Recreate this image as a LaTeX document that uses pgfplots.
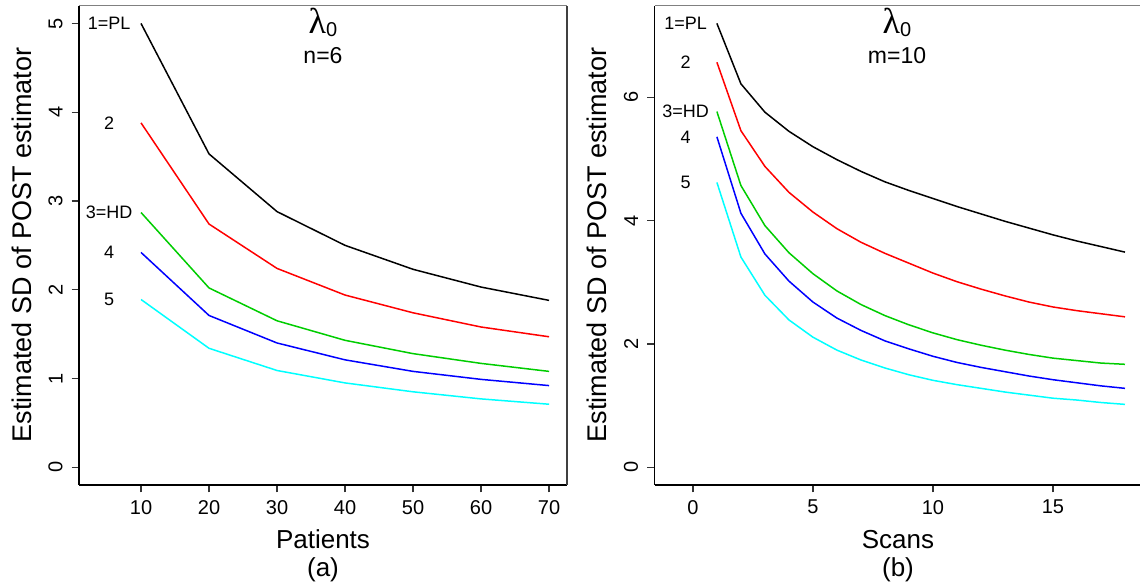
\documentclass[border=0pt]{standalone}
\usepackage{fontspec}
\setmainfont{Liberation Sans}
\newfontfamily\lamfont{Liberation Serif}
\usepackage{pgfplots}
\pgfplotsset{compat=1.18}
\definecolor{rgreen}{HTML}{00CD00}
\definecolor{rcyan}{HTML}{00FFFF}
\definecolor{rred}{HTML}{FF0000}
\definecolor{rblue}{HTML}{0000FF}

\pgfplotstableread{
x black red green blue cyan
10 5.00 3.88 2.87 2.42 1.89
20 3.53 2.74 2.02 1.71 1.34
30 2.88 2.24 1.65 1.40 1.09
40 2.50 1.94 1.43 1.21 0.95
50 2.23 1.74 1.28 1.08 0.85
60 2.03 1.58 1.17 0.99 0.77
70 1.88 1.47 1.08 0.92 0.71
}\patients

\pgfplotstableread{
x black red green blue cyan
1 7.20 6.57 5.77 5.36 4.62
2 6.22 5.46 4.57 4.12 3.41
3 5.76 4.88 3.92 3.46 2.79
4 5.45 4.46 3.48 3.02 2.39
5 5.20 4.14 3.14 2.68 2.11
6 4.99 3.87 2.86 2.42 1.90
7 4.80 3.65 2.64 2.22 1.74
8 4.63 3.47 2.46 2.05 1.61
9 4.49 3.31 2.31 1.92 1.50
10 4.36 3.15 2.18 1.80 1.41
11 4.23 3.01 2.07 1.70 1.34
12 4.11 2.89 1.98 1.62 1.28
13 3.99 2.78 1.90 1.55 1.22
14 3.88 2.68 1.83 1.48 1.17
15 3.77 2.60 1.77 1.42 1.12
16 3.67 2.54 1.73 1.37 1.09
17 3.58 2.49 1.69 1.32 1.05
18 3.49 2.44 1.67 1.28 1.02
}\scans

\pgfplotsset{rstyle/.style={
  scale only axis, width=244pt, height=239.65pt,
  axis x line*=bottom, axis y line*=left,
  axis line style={black, line width=0.65pt},
  tick align=outside, major tick length=3.75pt,
  tick style={black!80, line width=0.6pt},
  /pgf/number format/assume math mode=true,
  ticklabel style={font=\fontsize{10}{11}\selectfont},
  xticklabel style={anchor=north, inner sep=0pt, inner ysep=3.6pt},
  yticklabel style={rotate=90, anchor=south, inner sep=0pt, inner ysep=4.3pt},
  every axis plot/.append style={line width=0.75pt, no markers},
  clip=false,
}}

\begin{document}
\begin{tikzpicture}
\path[use as bounding box] (0,0) rectangle (570pt,293.5pt);

\begin{axis}[rstyle, at={(39.5pt,51pt)}, anchor=south west,
  xmin=0.88, xmax=72.64, ymin=-0.2, ymax=5.2,
  xtick={10,20,30,40,50,60,70}, ytick={0,1,2,3,4,5}]
\addplot[black] table[x=x,y=black] {\patients};
\addplot[rred] table[x=x,y=red] {\patients};
\addplot[rgreen] table[x=x,y=green] {\patients};
\addplot[rblue] table[x=x,y=blue] {\patients};
\addplot[rcyan] table[x=x,y=cyan] {\patients};
\draw[gray, line width=0.8pt] (rel axis cs:0,1) -- (rel axis cs:1,1);
\draw[black!75, line width=0.65pt] (rel axis cs:1,0) -- (rel axis cs:1,1);
\begin{scope}[every node/.style={font=\fontsize{9}{10}\selectfont, inner sep=0pt}]
\node at (axis cs:5.3,5.0) {1=PL};
\node at (axis cs:5.3,3.88) {2};
\node at (axis cs:5.3,2.87) {3=HD};
\node at (axis cs:5.3,2.42) {4};
\node at (axis cs:5.3,1.89) {5};
\end{scope}
\end{axis}

\begin{axis}[rstyle, at={(327.25pt,51pt)}, anchor=south west,
  xmin=-1.6, xmax=18.73, ymin=-0.288, ymax=7.488,
  xtick={0,5,10,15}, ytick={0,2,4,6}]
\addplot[black] table[x=x,y=black] {\scans};
\addplot[rred] table[x=x,y=red] {\scans};
\addplot[rgreen] table[x=x,y=green] {\scans};
\addplot[rblue] table[x=x,y=blue] {\scans};
\addplot[rcyan] table[x=x,y=cyan] {\scans};
\draw[gray, line width=0.8pt] (rel axis cs:0,1) -- (rel axis cs:1,1);
\draw[black!75, line width=0.65pt] (rel axis cs:1,0) -- (rel axis cs:1,1);
\begin{scope}[every node/.style={font=\fontsize{9}{10}\selectfont, inner sep=0pt}]
\node at (axis cs:-0.3,7.20) {1=PL};
\node at (axis cs:-0.3,6.57) {2};
\node at (axis cs:-0.3,5.77) {3=HD};
\node at (axis cs:-0.3,5.36) {4};
\node at (axis cs:-0.3,4.62) {5};
\end{scope}
\end{axis}

% titles
\node[anchor=base, inner sep=0pt] at (161.5pt,276.85pt) {{\fontsize{18}{18}\selectfont\lamfont λ}{\fontsize{10}{10}\selectfont\raisebox{-1.7pt}{0}}};
\node[anchor=base, inner sep=0pt, font=\fontsize{11.5}{13}\selectfont] at (161.5pt,261.85pt) {n=6};
\node[anchor=base, inner sep=0pt] at (448.5pt,276.85pt) {{\fontsize{18}{18}\selectfont\lamfont λ}{\fontsize{10}{10}\selectfont\raisebox{-1.7pt}{0}}};
\node[anchor=base, inner sep=0pt, font=\fontsize{11.5}{13}\selectfont] at (448.5pt,261.85pt) {m=10};

% axis labels
\node[anchor=base, inner sep=0pt, font=\fontsize{13}{15}\selectfont] at (161.5pt,19.35pt) {Patients};
\node[anchor=base, inner sep=0pt, font=\fontsize{13}{15}\selectfont] at (161.5pt,5.1pt) {(a)};
\node[anchor=base, inner sep=0pt, font=\fontsize{13}{15}\selectfont] at (449pt,19.35pt) {Scans};
\node[anchor=base, inner sep=0pt, font=\fontsize{13}{15}\selectfont] at (449pt,5.1pt) {(b)};
\node[anchor=base, inner sep=0pt, rotate=90, font=\fontsize{13.5}{15}\selectfont] at (15.85pt,171pt) {Estimated SD of POST estimator};
\node[anchor=base, inner sep=0pt, rotate=90, font=\fontsize{13.5}{15}\selectfont] at (303.4pt,171pt) {Estimated SD of POST estimator};
\end{tikzpicture}
\end{document}
